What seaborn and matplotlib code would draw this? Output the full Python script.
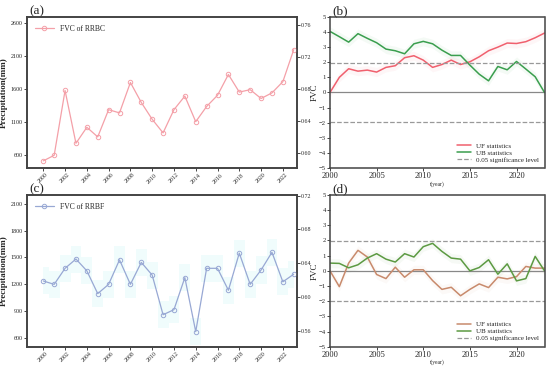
import numpy as np
import pandas as pd
import seaborn as sns
import matplotlib.pyplot as plt

# --- data ---
years = list(range(2000, 2024))

fvc_rrbc = [0.590, 0.597, 0.678, 0.612, 0.632, 0.620, 0.654, 0.650, 0.688, 0.663,
            0.642, 0.625, 0.654, 0.671, 0.639, 0.658, 0.672, 0.698, 0.676, 0.679,
            0.668, 0.675, 0.689, 0.729]
fvc_rrbf = [0.619, 0.615, 0.634, 0.645, 0.631, 0.604, 0.615, 0.644, 0.615, 0.641,
            0.626, 0.579, 0.585, 0.623, 0.559, 0.634, 0.634, 0.608, 0.652, 0.615,
            0.632, 0.653, 0.618, 0.627]

uf_b = [0.00, 1.00, 1.57, 1.41, 1.48, 1.35, 1.66, 1.77, 2.30, 2.43, 2.14, 1.66,
        1.85, 2.14, 1.85, 2.03, 2.36, 2.76, 3.00, 3.27, 3.24, 3.36, 3.62, 3.93]
ub_b = [4.04, 3.69, 3.33, 3.89, 3.58, 3.29, 2.87, 2.76, 2.56, 3.22, 3.38, 3.22,
        2.80, 2.45, 2.45, 1.81, 1.21, 0.77, 1.72, 1.50, 2.05, 1.55, 1.04, 0.00]
uf_d = [0.00, -1.04, 0.51, 1.35, 0.91, -0.24, -0.51, 0.24, -0.42, 0.07, 0.07, -0.64,
        -1.22, -1.08, -1.64, -1.22, -0.86, -1.10, -0.42, -0.53, -0.38, 0.29, 0.18, 0.18]
ub_d = [0.51, 0.49, 0.20, 0.40, 0.84, 1.13, 0.77, 0.58, 1.13, 0.91, 1.59, 1.81,
        1.28, 0.84, 0.77, 0.00, 0.22, 0.73, -0.22, 0.46, -0.66, -0.51, 0.95, 0.00]

sns.set_style("ticks")
plt.rcParams['font.family'] = ['Liberation Serif', 'DejaVu Serif']
plt.rcParams['xtick.direction'] = 'out'
plt.rcParams['ytick.direction'] = 'out'
plt.rcParams['xtick.major.size'] = 2
plt.rcParams['ytick.major.size'] = 2
plt.rcParams['xtick.major.width'] = 0.6
plt.rcParams['ytick.major.width'] = 0.6
plt.rcParams['axes.linewidth'] = 1.1

fig = plt.figure(figsize=(5.5, 3.67), dpi=100)
ax_a = fig.add_axes([0.049, 0.542, 0.491, 0.412])
ax_b = fig.add_axes([0.600, 0.542, 0.390, 0.412])
ax_c = fig.add_axes([0.049, 0.055, 0.491, 0.414])
ax_d = fig.add_axes([0.600, 0.055, 0.390, 0.414])

tick_fs = 4.3


def fvc_panel(ax, vals, color, label, ylim_l, yticks_l, ylim_r, yticks_r, tag, shade=None):
    ax.set_xlim(1998.5, 2023.3)
    ax.set_ylim(*ylim_l)
    ax.set_yticks(yticks_l)
    ax.set_xticks(range(2000, 2023, 2))
    ax.tick_params(axis='x', labelsize=tick_fs, rotation=45, pad=1)
    ax.tick_params(axis='y', labelsize=tick_fs, pad=1)
    ax.set_ylabel("Precipitation(mm)", fontsize=6.5, fontweight='bold', labelpad=2)
    ax.set_xlabel("")
    tw = ax.twinx()
    if shade is not None:
        tw.fill_between(years, np.array(vals) - 0.016, np.array(vals) + 0.016,
                        step='mid', color=shade, lw=0, zorder=0)
    df = pd.DataFrame({"year": years, "fvc": vals})
    sns.lineplot(data=df, x="year", y="fvc", ax=tw, color=color, lw=0.9,
                 marker='o', markersize=3.2, markerfacecolor='none',
                 markeredgecolor=color, markeredgewidth=0.7, label=label)
    tw.set_ylim(*ylim_r)
    tw.set_yticks(yticks_r)
    tw.set_yticklabels([f"{v:.2f}" for v in yticks_r])
    tw.tick_params(axis='y', labelsize=tick_fs, pad=1)
    tw.set_ylabel("")
    tw.set_xlabel("")
    tw.legend(loc='upper left', frameon=False, fontsize=5.5, handlelength=2.5,
              borderaxespad=0.6)
    for s in tw.spines.values():
        s.set_color('#444444')
    ax.text(0.01, 1.0, tag, transform=ax.transAxes, fontsize=9.5, va='bottom', ha='left')


fvc_panel(ax_a, fvc_rrbc, '#f4a0a8', 'FVC of RRBC', (400, 2700), [600, 1100, 1600, 2100, 2600],
          (0.581, 0.77), [0.60, 0.64, 0.68, 0.72, 0.76], '(a)')
fvc_panel(ax_c, fvc_rrbf, '#98a8d4', 'FVC of RRBF', (500, 2200), [600, 900, 1200, 1500, 1800, 2100],
          (0.541, 0.721), [0.56, 0.60, 0.64, 0.68, 0.72], '(c)', shade='#f0fcfc')


def mk_panel(ax, uf, ub, c_uf, c_ub, tag):
    df = pd.DataFrame({"year": years, "UF": uf, "UB": ub})
    ax.fill_between(years, np.array(uf) - 0.3, np.array(uf) + 0.3, color=c_uf, alpha=0.05, lw=0)
    ax.fill_between(years, np.array(ub) - 0.3, np.array(ub) + 0.3, color=c_ub, alpha=0.05, lw=0)
    ax.axhline(0, color='#888888', lw=0.9)
    sns.lineplot(data=df, x="year", y="UF", ax=ax, color=c_uf, lw=1.1, label='UF statistics')
    sns.lineplot(data=df, x="year", y="UB", ax=ax, color=c_ub, lw=1.1, label='UB statistics')
    ax.axhline(1.96, color='#999999', lw=0.9, ls='--', label='0.05 significance level')
    ax.axhline(-1.96, color='#999999', lw=0.9, ls='--')
    ax.set_xlim(2000, 2023)
    ax.set_ylim(-5, 5)
    ax.set_yticks(range(-5, 6))
    ax.set_xticks(range(2000, 2021, 5))
    ax.tick_params(axis='x', labelsize=6, pad=1)
    ax.tick_params(axis='y', labelsize=tick_fs + 0.5, pad=1)
    ax.set_ylabel("FVC", fontsize=6.5)
    ax.yaxis.set_label_coords(-0.052, 0.5)
    ax.set_xlabel("t(year)", fontsize=4, labelpad=0.5)
    ax.legend(loc='lower right', frameon=False, fontsize=5, handlelength=2.0,
              labelspacing=0.15, borderaxespad=0.4)
    for s in ax.spines.values():
        s.set_color('#444444')
    ax.text(0.01, 1.0, tag, transform=ax.transAxes, fontsize=9.5, va='bottom', ha='left')


mk_panel(ax_b, uf_b, ub_b, '#f0606e', '#3a9e4e', '(b)')
mk_panel(ax_d, uf_d, ub_d, '#c88a6c', '#5c9a42', '(d)')

fig.savefig("out.png", dpi=100)
